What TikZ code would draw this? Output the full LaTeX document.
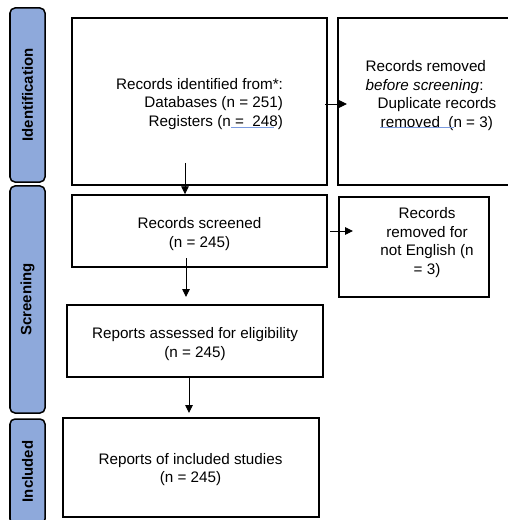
\documentclass[tikz,border=0pt]{standalone}
\usepackage{fontspec}
\setmainfont{Liberation Sans}
\usepackage{tikz}
\usetikzlibrary{arrows.meta,calc}
\usetikzlibrary{positioning}
\usepackage{xcolor}
\definecolor{stagefill}{HTML}{8EA9DB}
\definecolor{spellblue}{HTML}{7B9BE0}
\tikzstyle{prisma}=[
  x=1bp,y=-1bp,>={Triangle[length=8bp,width=7.5bp]},font=\fontsize{15.3}{18.5}\selectfont
]
\tikzstyle{stagebar}=[
  draw,fill=stagefill,rounded corners=5bp,line width=1.5bp,rotate=90,inner sep=0pt,
  minimum height=35bp,font=\fontsize{15}{17}\selectfont\bfseries
]
\tikzstyle{box}=[
  draw,line width=1.4bp,inner sep=0pt
]
\tikzstyle{boxtext}=[
  inner sep=0pt,align=center
]
\tikzstyle{flow}=[
    ->,line width=0.9bp
]
\tikzstyle{squiggle}=[
    spellblue,line width=0.9bp
]

\begin{document}
\begin{tikzpicture}[prisma]
    \useasboundingbox (0,0) rectangle (508,520);
    \node (idbar) at (27.5,95) [stagebar,minimum width=174bp] {Identification};
    \node (scbar) at (27.5,299.5) [stagebar,minimum width=227bp] {Screening};
    \node (inbar) at (27.5,471.5) [stagebar,minimum width=105bp] {Included};
    \node (ident) at (199.5,101.5) [box,minimum width=255bp,minimum height=167bp] {};
    \node (removed) at (431,101.5) [box,minimum width=186bp,minimum height=167bp] {};
    \node (screened) at (199.5,231) [box,minimum width=255bp,minimum height=72bp] {};
    \node (notenglish) at (414,247) [box,minimum width=150bp,minimum height=100bp] {};
    \node (assessed) at (195,341) [box,minimum width=256bp,minimum height=72bp] {};
    \node (included) at (191,467.5) [box,minimum width=256bp,minimum height=99bp] {};
    \node (identtext) at ($(ident.center)+(0,2.5)$) [boxtext,align=right]
      {Records identified from*:\\ Databases (n = 251)\\ Registers (n =\ \ 248)};
    \node (removedtext) at (431,95.5) [boxtext,align=left]
      {Records removed\\ \textit{before screening}:\\ \hspace*{12bp}Duplicate records\\ \hspace*{15bp}removed\ \ (n = 3)};
    \node (screenedtext) at ($(screened.center)+(0,3)$) [boxtext]
      {Records screened\\ (n = 245)};
    \node (netext) at (427,242.5) [boxtext]
      {Records\\ removed for\\ not English (n\\ = 3)};
    \node (assessedtext) at ($(assessed.center)+(0,3)$) [boxtext]
      {Reports assessed for eligibility\\ (n = 245)};
    \node (includedtext) at ($(included.center)+(-0.5,2)$) [boxtext]
      {Reports of included studies\\ (n = 245)};
    \coordinate (idout) at (185,163);
    \coordinate (idright) at (325,104);
    \coordinate (rmin) at (347,104);
    \coordinate (scright) at (330,231);
    \coordinate (nein) at (353,231);
    \coordinate (scout) at (186,258);
    \coordinate (asin) at (186,297);
    \coordinate (incin) at (189,413);
    \draw [flow] (idout) -- (idout |- screened.north);
    \draw [flow] (idright) -- (rmin);
    \draw [flow] (scright) -- (nein);
    \draw [flow] (scout) -- (asin);
    \draw [flow] (assessed.south -| incin) -- (incin);
    \draw [squiggle] (231,127.5) -- (274,127.5);
    \draw [squiggle] (380,127.5) -- (454,127.5);
\end{tikzpicture}
\end{document}
